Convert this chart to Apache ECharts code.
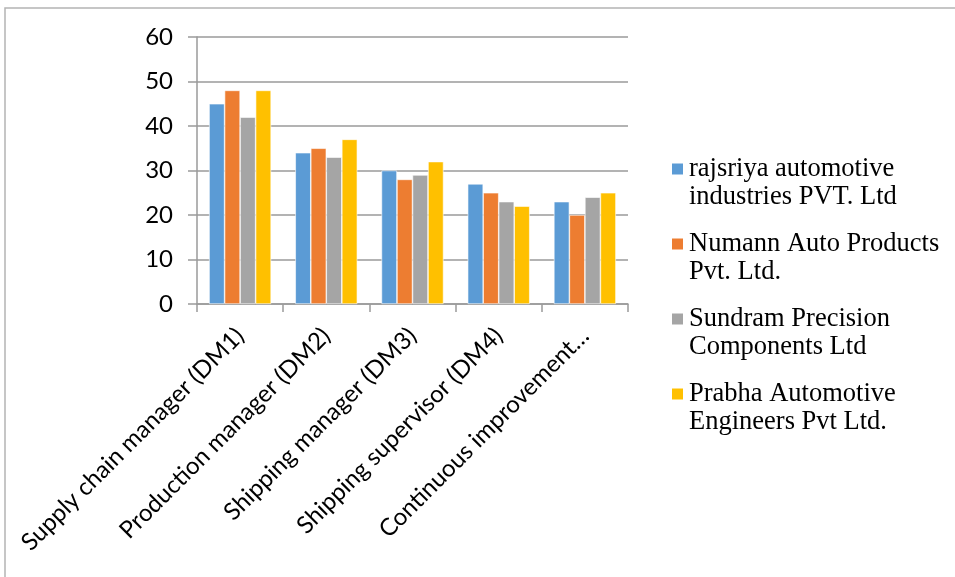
<!DOCTYPE html>
<html>
<head>
<meta charset="utf-8">
<script src="https://cdn.jsdelivr.net/npm/echarts@6/dist/echarts.min.js"></script>
<style>
  html, body { margin: 0; padding: 0; background: #fff; }
  #chart { width: 955px; height: 577px; }
</style>
</head>
<body>
<div id="chart"></div>
<script>
// Roles rated by each company
const categories = [
  'Supply chain manager (DM1)',
  'Production manager (DM2)',
  'Shipping manager (DM3)',
  'Shipping supervisor (DM4)',
  'Continuous improvement…'
];

const companyNames = [
  'rajsriya automotive\nindustries PVT. Ltd',
  'Numann Auto Products\nPvt. Ltd.',
  'Sundram Precision\nComponents Ltd',
  'Prabha Automotive\nEngineers Pvt Ltd.'
];

const rajsriya = [45, 34, 30, 27, 23];
const numann   = [48, 35, 28, 25, 20];
const sundram  = [42, 33, 29, 23, 24];
const prabha   = [48, 37, 32, 22, 25];

const colors = ['#5B9BD5', '#ED7D31', '#A5A5A5', '#FFC000'];
const yTicks = [0, 10, 20, 30, 40, 50, 60];

const seriesValues = [rajsriya, numann, sundram, prabha];

const chart = echarts.init(document.getElementById('chart'), null, { renderer: 'canvas' });

const axisFont = 'Lato, "Open Sans", sans-serif';

chart.setOption({
  animation: false,
  backgroundColor: '#ffffff',
  color: colors,
  graphic: [{
    type: 'rect',
    shape: { x: 5, y: 8, width: 1200, height: 800 },
    style: { fill: 'none', stroke: '#b4b4b4', lineWidth: 1.5 },
    silent: true
  }],
  grid: { left: 197, right: 327, top: 37, bottom: 273, containLabel: false },
  legend: {
    orient: 'vertical',
    left: 670,
    top: 127,
    padding: 0,
    itemWidth: 13,
    itemHeight: 13,
    itemGap: -9,
    icon: 'rect',
    data: companyNames,
    // a leading blank line keeps the swatch level with the first text line
    formatter: name => '\n' + name,
    textStyle: {
      fontFamily: '"Liberation Serif", "Times New Roman", serif',
      fontSize: 26.5,
      color: '#000',
      lineHeight: 28
    }
  },
  xAxis: {
    type: 'category',
    data: categories,
    axisLine: { show: true, lineStyle: { color: '#9a9a9a', width: 1.5 } },
    axisTick: { show: true, length: 8, lineStyle: { color: '#9a9a9a', width: 1.5 } },
    axisLabel: {
      rotate: 45,
      interval: 0,
      margin: 28,
      fontFamily: axisFont,
      fontSize: 24,
      color: '#000'
    }
  },
  yAxis: {
    type: 'value',
    min: yTicks[0],
    max: yTicks[yTicks.length - 1],
    interval: 10,
    axisLine: { show: true, lineStyle: { color: '#9a9a9a', width: 1.5 } },
    axisTick: { show: true, inside: false, length: 9, lineStyle: { color: '#9a9a9a', width: 1.5 } },
    splitLine: { show: true, lineStyle: { color: '#9a9a9a', width: 1.5 } },
    axisLabel: {
      margin: 24,
      fontFamily: axisFont,
      fontSize: 24,
      color: '#000'
    }
  },
  series: seriesValues.map((vals, i) => ({
    name: companyNames[i],
    type: 'bar',
    data: vals,
    barGap: '0%',
    barCategoryGap: '28%',
    itemStyle: { color: colors[i], borderColor: '#ffffff', borderWidth: 0.6 }
  }))
});
</script>
</body>
</html>
